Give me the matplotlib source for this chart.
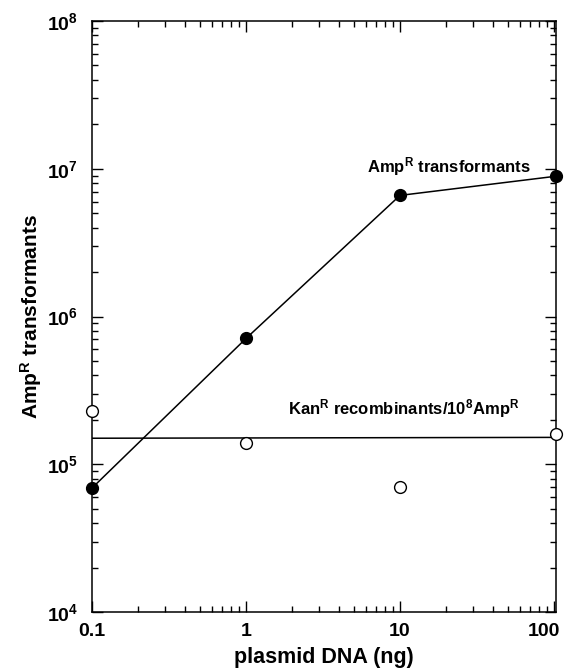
import numpy as np
import matplotlib
matplotlib.use("Agg")
import matplotlib.pyplot as plt
import matplotlib.transforms as mtransforms
from matplotlib.ticker import LogLocator, FixedLocator, FixedFormatter, NullFormatter

plt.rcParams['font.family'] = ['Liberation Sans', 'DejaVu Sans']
plt.rcParams['font.weight'] = 'bold'
plt.rcParams['mathtext.fontset'] = 'custom'
plt.rcParams['mathtext.rm'] = 'Liberation Sans:bold'
plt.rcParams['mathtext.bf'] = 'Liberation Sans:bold'
plt.rcParams['mathtext.it'] = 'Liberation Sans:bold'
plt.rcParams['mathtext.default'] = 'bf'

# data
dna_ng = [0.1, 1, 10, 103]
amp_transformants = [6.9e4, 7.1e5, 6.6e6, 8.9e6]
kan_recombinants = [2.3e5, 1.39e5, 7.0e4, 1.6e5]
kan_fit = [1.5e5, 1.52e5]
x_ticks = [0.1, 1, 10, 100]
x_ticklabels = ['0.1', '1', '10', '100']
y_ticks = [1e4, 1e5, 1e6, 1e7, 1e8]
y_ticklabels = [r'$10^{4}$', r'$10^{5}$', r'$10^{6}$', r'$10^{7}$', r'$10^{8}$']

fig = plt.figure(figsize=(5.65, 6.69), dpi=100)
ax = fig.add_axes([0.1628, 0.0852, 0.8212, 0.8834])
ax.set_xscale('log')
ax.set_yscale('log')
ax.set_xlim(0.1, 103)
ax.set_ylim(1e4, 1e8)

# ampR curve
ax.plot(dna_ng, amp_transformants, color='black', lw=1.1, zorder=2)
ax.plot(dna_ng, amp_transformants, 'o', color='black', ms=8.5, clip_on=False, zorder=3)

# kanR recombinants, flat line
ax.plot([dna_ng[0], dna_ng[-1]], kan_fit, color='black', lw=1.1, zorder=2)
ax.plot(dna_ng, kan_recombinants, 'o', mfc='white', mec='black', mew=1.0, ms=8.5,
        clip_on=False, zorder=3)

ax.text(20.8, 9.4e6, r'Amp$^{\mathregular{R}}$ transformants', fontsize=12,
        ha='center', va='baseline', fontweight='bold')
ax.text(10.5, 2.18e5, r'Kan$^{\mathregular{R}}$ recombinants/10$^{\mathregular{8}}$Amp$^{\mathregular{R}}$',
        fontsize=12, ha='center', va='baseline', fontweight='bold')

ax.xaxis.set_major_locator(FixedLocator(x_ticks))
ax.xaxis.set_major_formatter(FixedFormatter(x_ticklabels))
ax.yaxis.set_major_locator(FixedLocator(y_ticks))
ax.yaxis.set_major_formatter(FixedFormatter(y_ticklabels))
ax.xaxis.set_minor_locator(LogLocator(base=10, subs=np.arange(2, 10), numticks=20))
ax.yaxis.set_minor_locator(LogLocator(base=10, subs=np.arange(2, 10), numticks=20))
ax.xaxis.set_minor_formatter(NullFormatter())
ax.yaxis.set_minor_formatter(NullFormatter())

ax.tick_params(which='both', direction='in', top=True, right=True, width=1.0)
ax.tick_params(which='major', length=8, labelsize=14)
ax.tick_params(axis='x', which='major', pad=8)
ax.tick_params(axis='y', which='major', pad=10)
ax.tick_params(which='minor', length=4.5)
for s in ax.spines.values():
    s.set_linewidth(1.1)

ax.set_xlabel('plasmid DNA (ng)', fontsize=15.5, fontweight='bold', labelpad=5)
ax.set_ylabel(r'Amp$^{\mathregular{R}}$ transformants', fontsize=15, fontweight='bold', labelpad=2)

# keep "100" inside the figure like the original
fig.canvas.draw()
last = ax.get_xticklabels()[-1]
last.set_horizontalalignment('right')
last.set_transform(last.get_transform() + mtransforms.ScaledTranslation(0.06, 0, fig.dpi_scale_trans))

fig.savefig('out.png', dpi=100)
